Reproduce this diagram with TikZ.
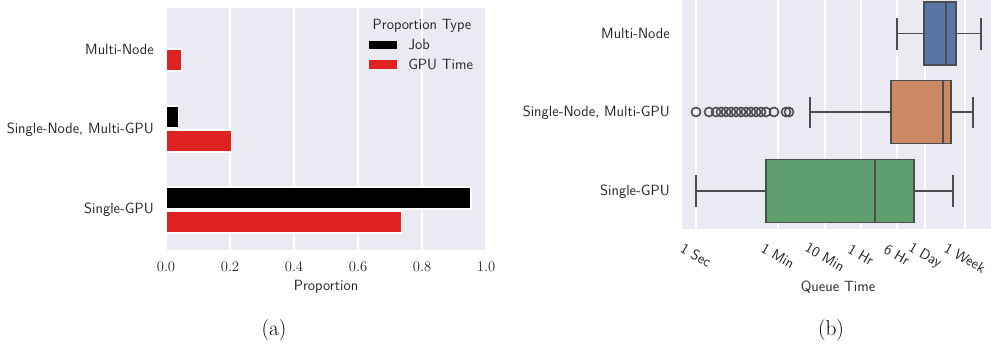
\documentclass[tikz,border=0pt]{standalone}
\definecolor{bgc}{HTML}{EAEAF2}
\definecolor{txtc}{HTML}{262626}
\definecolor{redbar}{HTML}{DE2121}
\definecolor{edgec}{HTML}{4C4C4C}
\definecolor{boxblue}{HTML}{5975A4}
\definecolor{boxorange}{HTML}{CC8963}
\definecolor{boxgreen}{HTML}{5F9E6E}
\tikzset{
  catlabel/.style={anchor=east, text=txtc, font=\sffamily\fontsize{11.1}{13}\selectfont, inner sep=0pt},
  ticklab/.style={text=txtc, font=\rmfamily\fontsize{11}{13}\selectfont, inner sep=0pt},
  axlab/.style={text=txtc, font=\sffamily\fontsize{11.1}{13}\selectfont, inner sep=0pt},
  rotlab/.style={text=txtc, font=\sffamily\fontsize{11}{13}\selectfont, inner sep=0pt, rotate=-30},
  caplab/.style={text=black, font=\rmfamily\fontsize{16}{18}\selectfont, inner sep=0pt},
  gridl/.style={white, line width=0.8pt},
  barjob/.style={fill=black, draw=white, line width=0.8pt},
  bargpu/.style={fill=redbar, draw=white, line width=0.8pt},
  boxe/.style={draw=edgec, line width=1.3pt},
  whisk/.style={edgec, line width=1.3pt},
  outl/.style={draw=edgec, line width=1.2pt, fill=none},
}
\begin{document}
\begin{tikzpicture}[x=0.75pt, y=-0.75pt]
\useasboundingbox (0,0) rectangle (991,345);
% ---------- panel (a) ----------
\fill[bgc] (166,8) rectangle (486,250);
\foreach \v in {0,0.2,0.4,0.6,0.8,1.0} {
  \draw[gridl] ({166+320*\v},8) -- ({166+320*\v},250);
}
% Multi-Node
\draw[bargpu] (166,49) rectangle ({166+320*0.047},71);
% Single-Node Multi-GPU
\draw[barjob] (166,106) rectangle ({166+320*0.040},128);
\draw[bargpu] (166,130) rectangle ({166+320*0.205},152);
% Single-GPU
\draw[barjob] (166,187) rectangle ({166+320*0.953},209);
\draw[bargpu] (166,211) rectangle ({166+320*0.737},233);
% category labels
\node[catlabel] (am) at (154,49) {Multi-Node};
\node[catlabel] (as) at (154,130) {Single-Node, Multi-GPU};
\node[catlabel] (ag) at (154,210) {Single-GPU};
% tick labels
\foreach \v/\t in {0/0.0,0.2/0.2,0.4/0.4,0.6/0.6,0.8/0.8,1.0/1.0} {
  \node[ticklab] at ({166+320*\v},267) {\t};
}
\node[axlab] (axa) at (326,287) {Proportion};
\node[caplab] (capa) at (274,330) {(a)};
% legend
\node[axlab] (legt) at (422,26) {Proportion Type};
\fill[black] (369,41) rectangle (397,49);
\fill[redbar] (369,60) rectangle (397,69);
\node[axlab, anchor=west] (legj) at (408,45) {Job};
\node[axlab, anchor=west] (legg) at (408,64) {GPU Time};
% ---------- panel (b) ----------
\fill[bgc] (682,0) rectangle (991,229);
\foreach \xx in {696,778,825,861,897,925,965} {
  \draw[gridl] (\xx,0) -- (\xx,229);
}
% Multi-Node
\draw[whisk] (897,33.5) -- (924,33.5);
\draw[whisk] (956,33.5) -- (981,33.5);
\draw[whisk] (897,18) -- (897,50);
\draw[whisk] (981,18) -- (981,50);
\draw[boxe, fill=boxblue] (924,2) rectangle (956,65);
\draw[whisk] (946,2) -- (946,65);
% Single-Node Multi-GPU
\draw[whisk] (810,112) -- (891,112);
\draw[whisk] (951,112) -- (973,112);
\draw[whisk] (810,97) -- (810,128);
\draw[whisk] (973,97) -- (973,128);
\draw[boxe, fill=boxorange] (891,80.5) rectangle (951,143.5);
\draw[whisk] (943,80.5) -- (943,143.5);
\foreach \xx in {696,709,716,721,726,731,736,741,746,751,756,761,766,774,786,789} {
  \draw[outl] (\xx,112) circle (4.5);
}
% Single-GPU
\draw[whisk] (696,191) -- (766,191);
\draw[whisk] (914,191) -- (953,191);
\draw[whisk] (696,175) -- (696,207);
\draw[whisk] (953,175) -- (953,207);
\draw[boxe, fill=boxgreen] (766,159.5) rectangle (914,222.5);
\draw[whisk] (875,159.5) -- (875,222.5);
% category labels
\node[catlabel] (bm) at (670,33) {Multi-Node};
\node[catlabel] (bs) at (670,113) {Single-Node, Multi-GPU};
\node[catlabel] (bg) at (670,192) {Single-GPU};
% rotated tick labels
\node[rotlab] at (696,255) {1 Sec};
\node[rotlab] at (778,256) {1 Min};
\node[rotlab] at (825,257) {10 Min};
\node[rotlab] at (861,255) {1 Hr};
\node[rotlab] at (897,255) {6 Hr};
\node[rotlab] at (925,256) {1 Day};
\node[rotlab] at (965,258) {1 Week};
\node[axlab] (axb) at (838,287) {Queue Time};
\node[caplab] (capb) at (831,330) {(b)};
\end{tikzpicture}
\end{document}
